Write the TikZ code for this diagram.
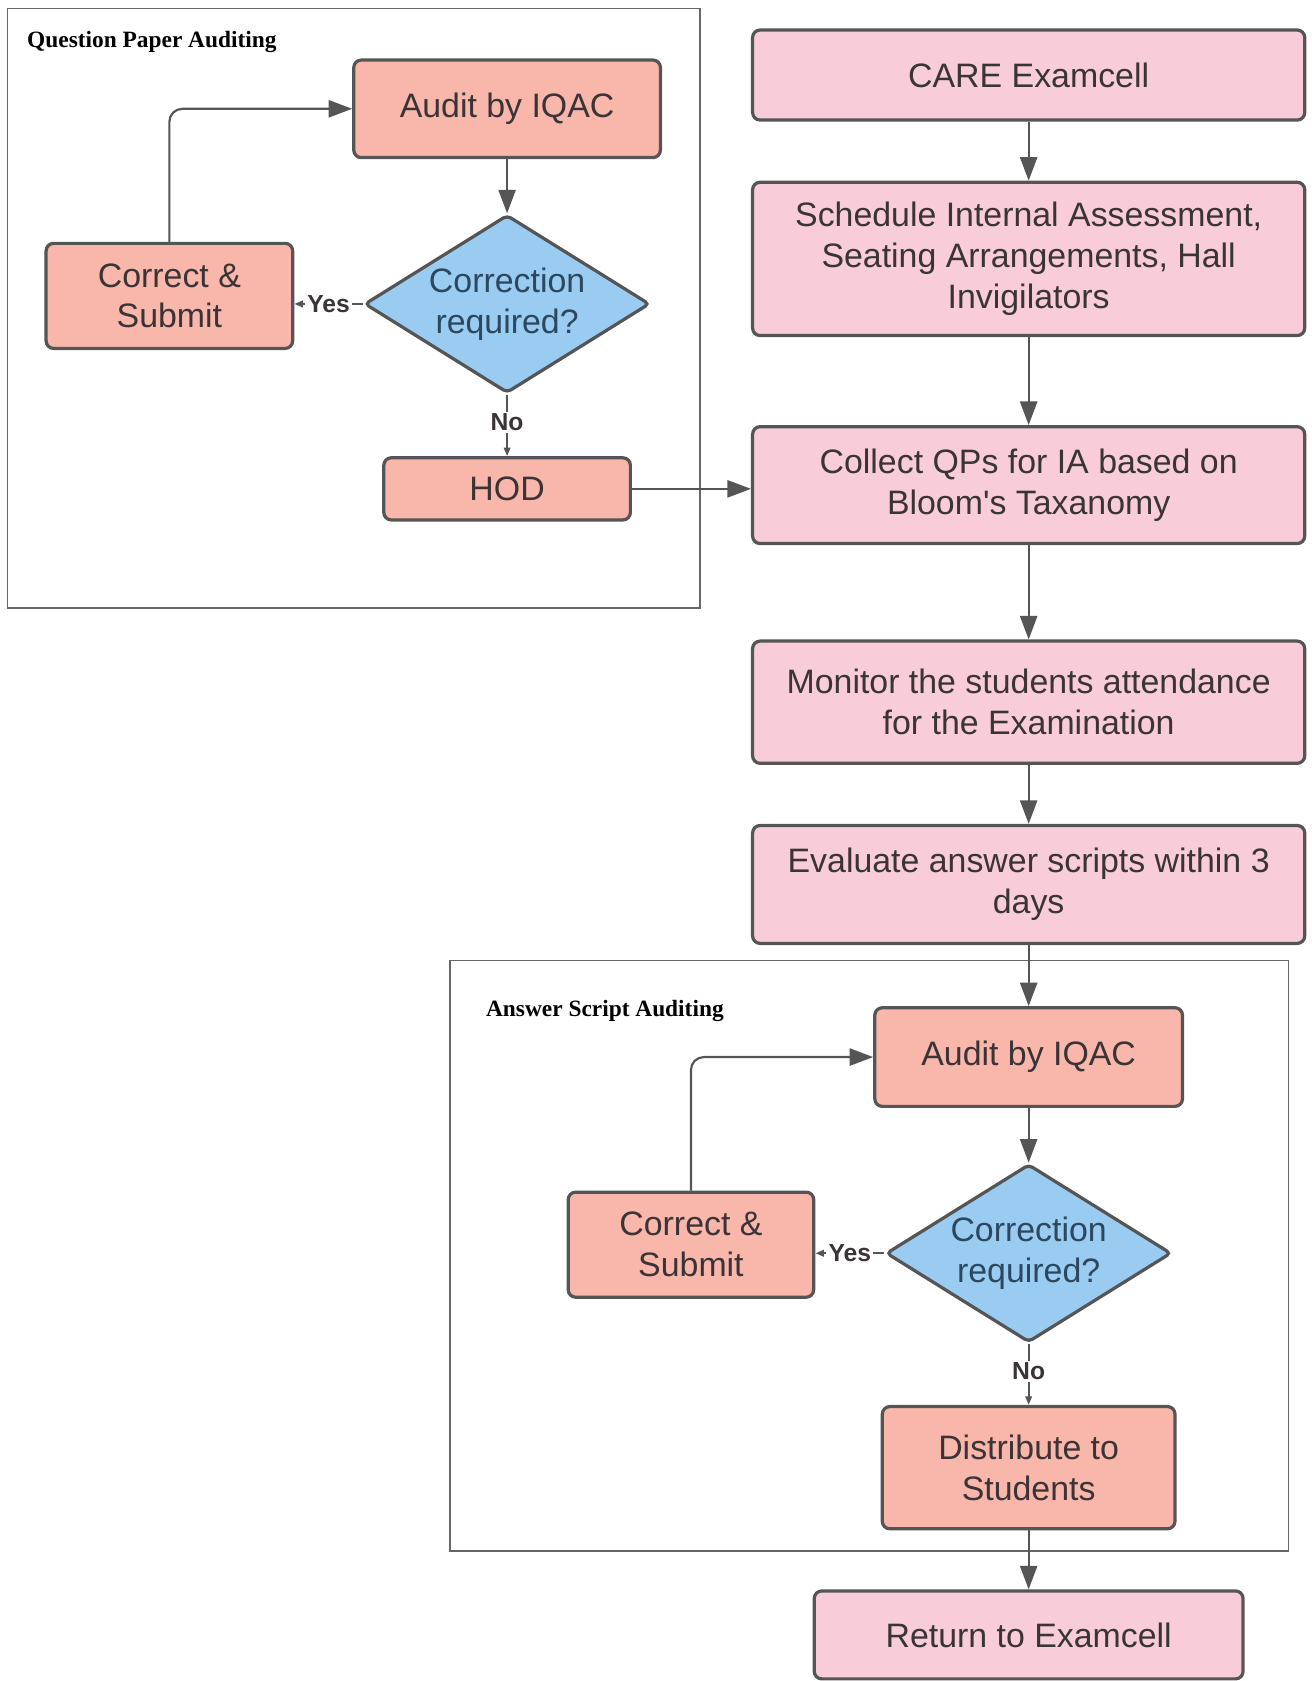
\documentclass[tikz,border=0pt]{standalone}
\usepackage{fontspec}
\setmainfont{Liberation Sans}
\newfontfamily\titlefont{Liberation Serif}
\usetikzlibrary{shapes.geometric,arrows.meta}

\definecolor{stagepink}{HTML}{F8CDD9}
\definecolor{auditsalmon}{HTML}{F9B6AB}
\definecolor{decisionblue}{HTML}{99CCF0}
\definecolor{linegray}{HTML}{555555}
\definecolor{framegray}{HTML}{666666}
\definecolor{textgray}{HTML}{3A3436}
\definecolor{decisiontext}{HTML}{2C4760}

\tikzstyle{stage}=[shape=rectangle,rounded corners=3.5pt,draw=linegray,line width=1.5pt,fill=stagepink,text=textgray,align=center,inner sep=0pt,font=\fontsize{15.8}{19}\selectfont]
\tikzstyle{audit}=[stage,fill=auditsalmon]
\tikzstyle{decision}=[shape=diamond,aspect=1.6,rounded corners=2pt,draw=linegray,line width=1.5pt,fill=decisionblue,text=decisiontext,align=center,inner sep=0pt,minimum width=133pt,minimum height=83pt,font=\fontsize{15.8}{19}\selectfont]
\tikzstyle{flow}=[draw=linegray,line width=1pt]
\tikzstyle{answer}=[fill=white,inner sep=1pt,text=textgray,font=\bfseries\fontsize{11.5}{13}\selectfont]
\tikzstyle{frame}=[draw=framegray,line width=0.8pt]
\tikzstyle{frametitle}=[anchor=west,inner sep=0pt,font=\titlefont\bfseries\fontsize{10.9}{12}\selectfont]

\begin{document}
\begin{tikzpicture}[x=0.5pt,y=-0.5pt,>={Triangle[length=11pt,width=8pt]}]
        \useasboundingbox (0,0) rectangle (1223,1568);
        % auditing frames
        \draw[frame] (7,8) rectangle (653,567);
        \node[frametitle] (qpa) at (25,39) {Question Paper Auditing};
        \draw[frame] (420,896) rectangle (1202,1447);
        \node[frametitle] (asa) at (453,943) {Answer Script Auditing};
        % examcell stages
        \node[stage,minimum width=257.5pt,minimum height=42pt] (care) at (959.5,70) {CARE Examcell};
        \node[stage,minimum width=257.5pt,minimum height=71.5pt] (sched) at (959.5,241.5) {Schedule Internal Assessment,\\Seating Arrangements, Hall\\Invigilators}
            edge [flow,<-] (care);
        \node[stage,minimum width=257.5pt,minimum height=54.5pt] (collect) at (959.5,452.5) {Collect QPs for IA based on\\Bloom\textquotesingle s Taxanomy}
            edge [flow,<-] (sched);
        \node[stage,minimum width=257.5pt,minimum height=57pt] (monitor) at (959.5,655) {Monitor the students attendance\\for the Examination}
            edge [flow,<-] (collect);
        \node[stage,minimum width=257.5pt,minimum height=55pt] (eval) at (959.5,825) {Evaluate answer scripts within 3\\days}
            edge [flow,<-] (monitor);
        % question paper auditing
        \node[audit,minimum width=143pt,minimum height=45.5pt] (auditqp) at (473,101.5) {Audit by IQAC};
        \node[decision] (decqp) at (473,283.5) {Correction\\required?}
            edge [flow,<-] (auditqp);
        \node[audit,minimum width=115pt,minimum height=49pt] (correctqp) at (158,276) {Correct \&\\Submit};
        \node[audit,minimum width=115pt,minimum height=29pt] (hod) at (473,456) {HOD};
        \draw[flow,<-,>={Triangle[length=4pt,width=3pt]}] (decqp.west -| correctqp.east) -- node[answer] {Yes} (decqp.west);
        \draw[flow,<-,>={Triangle[length=4pt,width=3pt]}] (hod.north) -- node[answer,pos=0.55] {No} (decqp.south);
        \draw[flow,->,rounded corners=6pt] (correctqp.north) |- (auditqp.west);
        \draw[flow,->] (hod.east) -- (hod.east -| collect.west);
        % answer script auditing
        \node[audit,minimum width=143.5pt,minimum height=46pt] (auditas) at (959.5,986) {Audit by IQAC}
            edge [flow,<-] (eval);
        \node[decision] (decas) at (959.5,1169) {Correction\\required?}
            edge [flow,<-] (auditas);
        \node[audit,minimum width=114.5pt,minimum height=49pt] (correctas) at (644.5,1161) {Correct \&\\Submit};
        \node[audit,minimum width=136.5pt,minimum height=57pt] (dist) at (959.5,1369) {Distribute to\\Students};
        \draw[flow,<-,>={Triangle[length=4pt,width=3pt]}] (decas.west -| correctas.east) -- node[answer] {Yes} (decas.west);
        \draw[flow,<-,>={Triangle[length=4pt,width=3pt]}] (dist.north) -- node[answer,pos=0.55] {No} (decas.south);
        \draw[flow,->,rounded corners=6pt] (correctas.north) |- (auditas.west);
        \node[stage,minimum width=200pt,minimum height=41pt] (ret) at (959.5,1525) {Return to Examcell}
            edge [flow,<-] (dist);
\end{tikzpicture}
\end{document}
